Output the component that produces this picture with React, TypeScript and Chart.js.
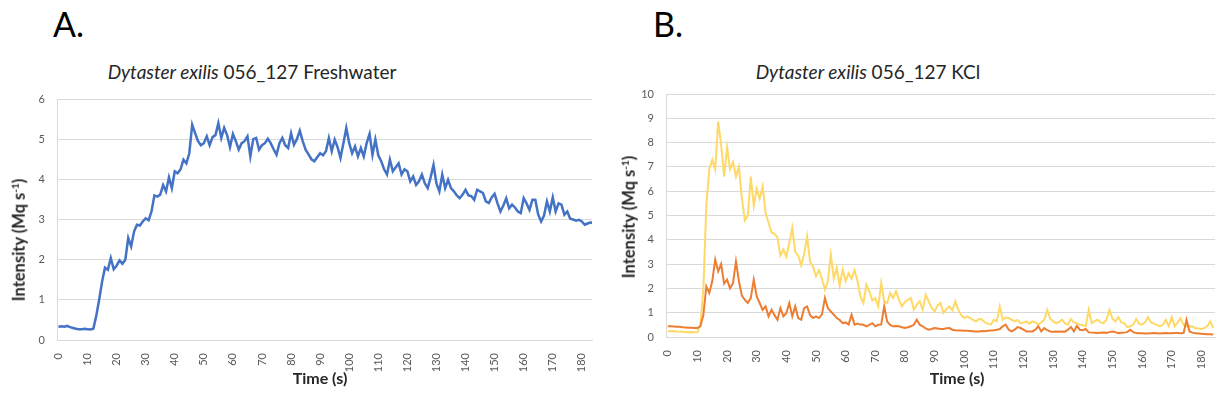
import React, { useEffect, useRef } from "react";
import { Chart, registerables } from "chart.js";

Chart.register(...registerables);

// Sampling step of the recorded traces (seconds per value)
const SAMPLE_STEP_S = 1;

// x-axis tick labels (Time, s)
const TIME_TICKS: number[] = [0, 10, 20, 30, 40, 50, 60, 70, 80, 90, 100, 110, 120, 130, 140, 150, 160, 170, 180];

// Panel A: Dytaster exilis 056_127 Freshwater (Mq s-1), one value per second from t = 0
const FRESHWATER: number[] = [
  0.33, 0.34, 0.33, 0.35, 0.32, 0.30, 0.28, 0.27, 0.27, 0.28,
  0.27, 0.26, 0.28, 0.60, 1.00, 1.45, 1.80, 1.75, 2.04, 1.76,
  1.85, 1.98, 1.90, 2.00, 2.54, 2.33, 2.70, 2.87, 2.85, 2.95,
  3.03, 2.98, 3.20, 3.60, 3.57, 3.62, 3.86, 3.70, 4.05, 3.78,
  4.20, 4.15, 4.25, 4.49, 4.40, 4.65, 5.36, 5.15, 4.95, 4.85,
  4.90, 5.07, 4.85, 5.05, 5.10, 5.40, 5.03, 5.28, 5.10, 4.80,
  5.13, 4.95, 4.74, 4.90, 4.95, 5.07, 4.57, 5.00, 5.03, 4.74,
  4.85, 4.90, 5.01, 4.90, 4.75, 4.61, 4.90, 5.03, 4.85, 4.78,
  5.15, 4.86, 5.00, 5.21, 4.95, 4.74, 4.62, 4.50, 4.45, 4.55,
  4.65, 4.60, 4.70, 5.03, 4.70, 4.99, 4.80, 4.53, 4.90, 5.28,
  4.90, 4.65, 4.82, 4.57, 4.78, 4.57, 4.90, 5.13, 4.61, 4.99,
  4.60, 4.45, 4.25, 4.12, 4.49, 4.20, 4.30, 4.40, 4.12, 4.25,
  4.20, 3.95, 4.07, 3.86, 3.95, 4.12, 3.90, 3.78, 4.05, 4.36,
  3.90, 3.70, 4.12, 3.78, 3.99, 3.78, 3.70, 3.60, 3.53, 3.62,
  3.74, 3.60, 3.58, 3.49, 3.74, 3.70, 3.66, 3.45, 3.41, 3.55,
  3.64, 3.40, 3.20, 3.35, 3.53, 3.28, 3.37, 3.30, 3.20, 3.16,
  3.53, 3.40, 3.24, 3.49, 3.49, 3.12, 2.95, 3.10, 3.45, 3.20,
  3.55, 3.20, 3.40, 3.37, 3.12, 3.20, 3.02, 3.00, 2.97, 2.99,
  2.95, 2.87, 2.90, 2.93, 2.90,
];

// Panel B: Dytaster exilis 056_127 KCl, light (yellow) trace
const KCL_YELLOW: number[] = [
  0.25, 0.24, 0.25, 0.23, 0.22, 0.22, 0.21, 0.20, 0.21, 0.20,
  0.20, 0.50, 1.95, 5.40, 6.90, 7.30, 6.90, 8.87, 7.90, 6.60,
  7.80, 6.90, 7.20, 6.60, 7.00, 5.70, 4.80, 5.00, 6.60, 5.40,
  6.10, 5.70, 6.20, 5.10, 4.70, 4.30, 4.25, 4.10, 3.35, 3.60,
  3.30, 3.87, 4.50, 3.50, 3.35, 2.95, 3.40, 4.14, 3.10, 2.90,
  2.50, 2.75, 2.40, 1.95, 2.30, 3.39, 2.40, 2.85, 2.10, 2.77,
  2.30, 2.63, 2.40, 2.75, 2.30, 1.67, 1.40, 2.15, 1.88, 1.50,
  1.60, 1.26, 2.22, 1.47, 1.40, 1.81, 1.60, 1.88, 1.53, 1.26,
  1.45, 1.53, 1.60, 1.12, 1.33, 1.47, 1.12, 1.74, 1.47, 1.20,
  1.05, 1.30, 1.40, 0.99, 1.15, 1.26, 1.10, 1.47, 1.12, 0.90,
  0.78, 0.85, 0.78, 0.70, 0.64, 0.75, 0.71, 0.60, 0.55, 0.51,
  0.71, 0.65, 1.26, 0.71, 0.80, 0.78, 0.71, 0.65, 0.70, 0.57,
  0.60, 0.64, 0.55, 0.64, 0.60, 0.51, 0.60, 0.71, 1.12, 0.75,
  0.64, 0.57, 0.62, 0.71, 0.55, 0.51, 0.74, 0.60, 0.57, 0.51,
  0.48, 0.44, 1.12, 0.57, 0.65, 0.71, 0.60, 0.57, 0.71, 1.12,
  0.75, 0.64, 0.82, 0.60, 0.57, 0.41, 0.44, 0.50, 0.74, 0.55,
  0.51, 0.60, 0.82, 0.60, 0.55, 0.50, 0.44, 0.50, 0.71, 0.44,
  0.82, 0.44, 0.60, 0.78, 0.50, 0.44, 0.44, 0.42, 0.37, 0.35,
  0.33, 0.37, 0.45, 0.64, 0.37,
];

// Panel B: Dytaster exilis 056_127 KCl, dark (orange) trace
const KCL_ORANGE: number[] = [
  0.44, 0.44, 0.43, 0.42, 0.42, 0.40, 0.39, 0.38, 0.38, 0.37,
  0.37, 0.45, 0.90, 2.08, 1.81, 2.29, 3.18, 2.70, 3.00, 2.20,
  2.36, 2.00, 2.22, 3.11, 2.30, 1.70, 1.53, 1.40, 1.60, 2.36,
  1.67, 1.40, 1.12, 1.26, 0.85, 1.12, 0.90, 0.71, 1.19, 0.85,
  0.99, 1.40, 0.85, 1.26, 0.78, 0.71, 1.19, 1.26, 0.90, 0.78,
  0.85, 0.78, 0.92, 1.60, 1.19, 1.05, 0.92, 0.78, 0.70, 0.57,
  0.60, 0.51, 0.92, 0.51, 0.55, 0.51, 0.50, 0.44, 0.50, 0.57,
  0.44, 0.50, 0.51, 1.26, 0.64, 0.50, 0.44, 0.45, 0.44, 0.40,
  0.37, 0.40, 0.44, 0.50, 0.71, 0.50, 0.44, 0.35, 0.30, 0.33,
  0.37, 0.35, 0.33, 0.33, 0.36, 0.37, 0.30, 0.28, 0.27, 0.27,
  0.26, 0.26, 0.25, 0.24, 0.23, 0.23, 0.25, 0.24, 0.26, 0.27,
  0.28, 0.30, 0.33, 0.44, 0.51, 0.30, 0.23, 0.30, 0.41, 0.37,
  0.30, 0.23, 0.23, 0.23, 0.30, 0.44, 0.23, 0.37, 0.28, 0.23,
  0.22, 0.23, 0.22, 0.23, 0.22, 0.30, 0.41, 0.23, 0.46, 0.30,
  0.28, 0.33, 0.19, 0.18, 0.17, 0.16, 0.17, 0.18, 0.17, 0.20,
  0.23, 0.20, 0.16, 0.17, 0.18, 0.20, 0.30, 0.20, 0.16, 0.15,
  0.15, 0.14, 0.14, 0.15, 0.16, 0.15, 0.14, 0.15, 0.16, 0.15,
  0.15, 0.16, 0.16, 0.15, 0.16, 0.71, 0.23, 0.18, 0.15, 0.14,
  0.13, 0.12, 0.11, 0.11, 0.10,
];

const BLUE = "#4472C4";
const YELLOW = "#FFD966";
const ORANGE = "#ED7D31";
const GRID = "#D9D9D9";
const TICK_COLOR = "#595959";
const FONT = "Lato, 'Open Sans', sans-serif";

const toPoints = (vals: number[]) => vals.map((v, i) => ({ x: i * SAMPLE_STEP_S, y: v }));

type PanelProps = {
  left: number;
  width: number;
  height: number;
  padTop: number;
  padRight: number;
  yAxisWidth: number;
  xAxisHeight: number;
  yMax: number;
  xMin: number;
  xMax: number;
  lineWidth: number;
  series: { values: number[]; color: string }[];
};

function Panel(p: PanelProps) {
  const ref = useRef<HTMLCanvasElement | null>(null);
  useEffect(() => {
    if (!ref.current) return;
    const chart = new Chart(ref.current, {
      type: "line",
      data: {
        datasets: p.series.map((s) => ({
          data: toPoints(s.values),
          borderColor: s.color,
          backgroundColor: s.color,
          borderWidth: p.lineWidth,
          pointRadius: 0,
          tension: 0,
          fill: false,
        })),
      },
      options: {
        animation: false,
        responsive: false,
        maintainAspectRatio: false,
        layout: {
          autoPadding: false,
          padding: { top: p.padTop, right: p.padRight, left: 0, bottom: 0 },
        },
        plugins: {
          legend: { display: false },
          title: { display: false },
          tooltip: { enabled: false },
        },
        scales: {
          x: {
            type: "linear",
            min: p.xMin,
            max: p.xMax,
            afterBuildTicks: (s: any) => {
              s.ticks = TIME_TICKS.map((v) => ({ value: v }));
            },
            afterFit: (s: any) => {
              s.height = p.xAxisHeight;
              s.paddingLeft = 0;
              s.paddingRight = 0;
            },
            ticks: {
              autoSkip: false,
              minRotation: 90,
              maxRotation: 90,
              padding: 13,
              color: TICK_COLOR,
              font: { family: FONT, size: 11 },
              callback: (v: any) => String(v),
            },
            grid: { display: false, drawTicks: false },
            border: { display: true, color: GRID },
          },
          y: {
            min: 0,
            max: p.yMax,
            afterFit: (s: any) => {
              s.width = p.yAxisWidth;
              s.paddingTop = 0;
              s.paddingBottom = 0;
            },
            ticks: {
              stepSize: 1,
              padding: 12,
              color: TICK_COLOR,
              font: { family: FONT, size: 11 },
            },
            grid: { color: GRID, drawTicks: false, lineWidth: 1 },
            border: { display: true, color: GRID },
          },
        },
      },
    } as any);
    return () => chart.destroy();
  }, []);
  return (
    <canvas
      ref={ref}
      width={p.width}
      height={p.height}
      style={{ position: "absolute", left: p.left, top: 0, width: p.width, height: p.height }}
    />
  );
}

const abs = (extra: React.CSSProperties): React.CSSProperties => ({
  position: "absolute",
  whiteSpace: "nowrap",
  lineHeight: 1,
  fontFamily: FONT,
  color: "#000",
  ...extra,
});

function YTitle({ cx, cy }: { cx: number; cy: number }) {
  return (
    <div
      style={abs({
        left: cx,
        top: cy,
        transform: "translate(-50%, -50%) rotate(-90deg)",
        fontWeight: 700,
        fontSize: 16.5,
        color: "#262626",
      })}
    >
      Intensity (Mq s<sup style={{ fontSize: 10, verticalAlign: "6px", lineHeight: 0 }}>-1</sup>)
    </div>
  );
}

function XTitle({ cx, cy }: { cx: number; cy: number }) {
  return (
    <div
      style={abs({
        left: cx,
        top: cy,
        transform: "translate(-50%, -50%)",
        fontWeight: 700,
        fontSize: 16,
        color: "#262626",
      })}
    >
      Time (s)
    </div>
  );
}

export default function App() {
  return (
    <div style={{ position: "absolute", left: 0, top: 0, width: 1216, height: 406, background: "#fff", overflow: "hidden" }}>
      <div style={abs({ left: 53, top: 7, fontSize: 34 })}>A.</div>
      <div style={abs({ left: 653, top: 7, fontSize: 34 })}>B.</div>
      <div style={abs({ left: 252, top: 62, fontSize: 19, transform: "translateX(-50%)", color: "#262626" })}>
        <i>Dytaster exilis</i> 056_127 Freshwater
      </div>
      <div style={abs({ left: 868, top: 62, fontSize: 19, transform: "translateX(-50%)", color: "#262626" })}>
        <i>Dytaster exilis</i> 056_127 KCl
      </div>
      <Panel
        left={0}
        width={600}
        height={406}
        padTop={99}
        padRight={8}
        yAxisWidth={57}
        xAxisHeight={66}
        yMax={6}
        xMin={-0.5}
        xMax={183.5}
        lineWidth={2.5}
        series={[{ values: FRESHWATER, color: BLUE }]}
      />
      <Panel
        left={600}
        width={616}
        height={406}
        padTop={94}
        padRight={1}
        yAxisWidth={66}
        xAxisHeight={69}
        yMax={10}
        xMin={-0.6}
        xMax={184.6}
        lineWidth={2}
        series={[
          { values: KCL_ORANGE, color: ORANGE },
          { values: KCL_YELLOW, color: YELLOW },
        ]}
      />
      <YTitle cx={19} cy={240} />
      <YTitle cx={629} cy={217} />
      <XTitle cx={320} cy={378} />
      <XTitle cx={957} cy={378} />
    </div>
  );
}
